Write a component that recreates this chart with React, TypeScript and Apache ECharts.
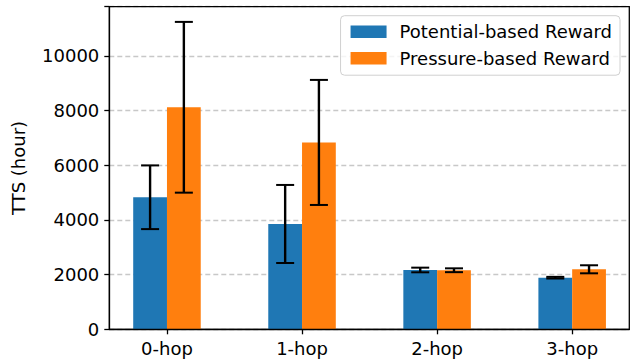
import React, { useEffect, useRef } from "react";
import * as echarts from "echarts";

const categories = ["0-hop", "1-hop", "2-hop", "3-hop"];
const potentialMean = [4830, 3853, 2170, 1888];
const potentialErr = [1165, 1427, 85, 30];
const pressureMean = [8121, 6835, 2160, 2195];
const pressureErr = [3123, 2287, 70, 147];
const seriesNames = ["Potential-based Reward", "Pressure-based Reward"];
const yTicks = [0, 2000, 4000, 6000, 8000, 10000];

const FONT = "DejaVu Sans";
const BLUE = "#1f77b4";
const ORANGE = "#ff7f0e";
const BAR_W = 0.25;

function barSeries(name: string, color: string, means: number[], offset: number) {
  return {
    type: "custom",
    name,
    itemStyle: { color },
    z: 2,
    encode: { x: 0, y: 1 },
    data: means.map((v, i) => [i, v]),
    renderItem: (params: any, api: any) => {
      const i = api.value(0);
      const v = api.value(1);
      const base = api.coord([i + offset, 0]);
      const top = api.coord([i + offset, v]);
      const w = api.size([BAR_W, 0])[0];
      return {
        type: "rect",
        shape: { x: base[0] - w / 2, y: top[1], width: w, height: base[1] - top[1] },
        style: { fill: api.visual("color") },
      };
    },
  };
}

function errSeries(means: number[], errs: number[], offset: number) {
  return {
    type: "custom",
    z: 5,
    silent: true,
    encode: { x: 0, y: 1 },
    data: means.map((v, i) => [i, v, errs[i]]),
    renderItem: (params: any, api: any) => {
      const i = api.value(0);
      const v = api.value(1);
      const e = api.value(2);
      const hi = api.coord([i + offset, v + e]);
      const lo = api.coord([i + offset, v - e]);
      const cap = 9;
      const st = { stroke: "#000", lineWidth: 2.4 };
      return {
        type: "group",
        children: [
          { type: "line", shape: { x1: hi[0], y1: hi[1], x2: lo[0], y2: lo[1] }, style: st },
          { type: "line", shape: { x1: hi[0] - cap, y1: hi[1], x2: hi[0] + cap, y2: hi[1] }, style: { stroke: "#000", lineWidth: 2 } },
          { type: "line", shape: { x1: lo[0] - cap, y1: lo[1], x2: lo[0] + cap, y2: lo[1] }, style: { stroke: "#000", lineWidth: 2 } },
        ],
      };
    },
  };
}

export default function App() {
  const ref = useRef<HTMLDivElement>(null);
  useEffect(() => {
    const chart = echarts.init(ref.current!, null, { renderer: "svg" });
    chart.setOption({
      animation: false,
      backgroundColor: "#fff",
      textStyle: { fontFamily: FONT },
      grid: {
        left: 109.3,
        right: 6.7,
        top: 6.7,
        bottom: 30.7,
        show: true,
        borderColor: "#000",
        borderWidth: 1.3,
        backgroundColor: "transparent",
        z: 10,
      },
      legend: {
        orient: "vertical",
        right: 16,
        top: 15.7,
        data: seriesNames,
        icon: "rect",
        itemWidth: 36,
        itemHeight: 12.5,
        itemGap: 8.5,
        padding: [7, 8, 8, 10],
        backgroundColor: "rgba(255,255,255,0.8)",
        borderColor: "#d0d0d0",
        borderWidth: 1,
        borderRadius: 4,
        textStyle: { fontFamily: FONT, fontSize: 18, color: "#000", padding: [0, 0, 0, 8] },
      },
      xAxis: {
        type: "value",
        min: -0.427,
        max: 3.423,
        splitLine: { show: false },
        axisLine: { show: true, onZero: false, lineStyle: { color: "#000", width: 1.3 } },
        axisTick: { show: true, length: 5, customValues: [0, 1, 2, 3], lineStyle: { color: "#000", width: 1.3 } },
        axisLabel: {
          customValues: [0, 1, 2, 3],
          formatter: (v: number) => categories[Math.round(v)] ?? "",
          fontFamily: FONT,
          fontSize: 18,
          color: "#000",
          margin: 10,
        },
      },
      yAxis: {
        type: "value",
        min: 0,
        max: 11800,
        interval: 2000,
        name: "TTS (hour)",
        nameLocation: "middle",
        nameGap: 82,
        nameTextStyle: { fontFamily: FONT, fontSize: 18, color: "#000" },
        axisLine: { show: true, onZero: false, lineStyle: { color: "#000", width: 1.3 } },
        axisTick: { show: true, length: 5, lineStyle: { color: "#000", width: 1.3 } },
        axisLabel: {
          formatter: (v: number) => (yTicks.includes(v) ? String(v) : ""),
          fontFamily: FONT,
          fontSize: 18,
          color: "#000",
          margin: 10,
        },
        splitLine: { show: true, lineStyle: { color: "#c8c8c8", width: 1.3, type: [5, 3] } },
      },
      series: [
        barSeries(seriesNames[0], BLUE, potentialMean, -0.125),
        barSeries(seriesNames[1], ORANGE, pressureMean, 0.125),
        errSeries(potentialMean, potentialErr, -0.125),
        errSeries(pressureMean, pressureErr, 0.125),
      ],
    });
    return () => chart.dispose();
  }, []);
  return <div ref={ref} style={{ width: 636, height: 360, position: "absolute", left: 0, top: 0 }} />;
}
